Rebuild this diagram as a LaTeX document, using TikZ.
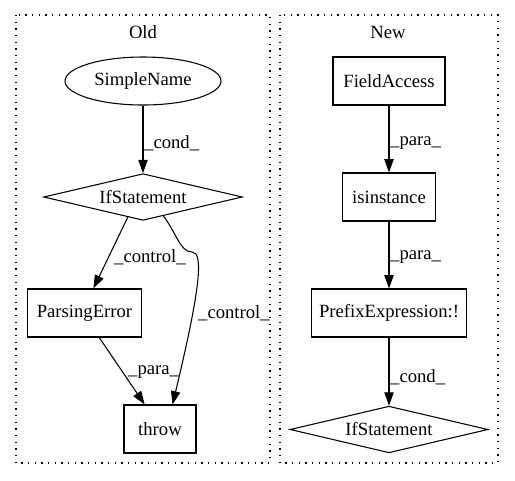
\documentclass[tikz,border=0pt]{standalone}
\usepackage{fontspec}
\setmainfont{Liberation Serif}
\usetikzlibrary{shapes.geometric,arrows.meta}

\begin{document}
\begin{tikzpicture}[x=0.75pt,y=-0.75pt,>={Triangle[length=10pt,width=7pt]},font=\fontsize{14pt}{16pt}\selectfont]
    \tikzstyle{box}=[rectangle,draw=black,line width=0.8pt,minimum height=36pt,inner sep=0pt]
    \tikzstyle{decision}=[diamond,draw=black,line width=0.8pt,aspect=4,minimum height=35pt,inner sep=0pt]
    \tikzstyle{edge}=[->,line width=0.8pt]
    \tikzstyle{lbl}=[anchor=west,inner sep=0.5pt]
    \tikzstyle{cluster}=[draw=black,line width=0.8pt,dash pattern=on 1pt off 4pt]
    \useasboundingbox (0,0) rectangle (515,480);

    % clusters
    \draw[cluster] (16,15) rectangle (270,463);
    \draw[cluster] (280,15) rectangle (498,463);
    \node (oldlbl) at (143,32) {Old};
    \node (newlbl) at (388,32) {New};

    % old
    \node[ellipse,draw=black,line width=0.8pt,minimum width=117pt,minimum height=36pt,inner sep=0pt] (sname) at (143,81) {SimpleName};
    \node[decision,minimum width=149pt] (ifold) at (143,197) {IfStatement};
    \node[box,minimum width=86pt] (perr) at (84.5,313) {ParsingError};
    \node[box,minimum width=54pt] (throw) at (160,429) {throw};

    \draw[edge] (sname) -- (ifold) node[lbl] (l-cond) at (143,143) {\_cond\_};
    \draw[edge] (ifold.-127) -- (perr.70) node[lbl] (l-ctrl1) at (113,257) {\_control\_};
    \draw[edge] (ifold.-43) .. controls (176,232) and (180,252) .. (192,252)
                .. controls (204,252) and (200,290) .. (throw.63)
                node[lbl] (l-ctrl2) at (197,313) {\_control\_};
    \draw[edge] (perr.-59) -- (throw.122) node[lbl] (l-para) at (127,372) {\_para\_};

    % new
    \node[box,minimum width=84pt] (facc) at (389,81) {FieldAccess};
    \node[box,minimum width=70pt] (isinst) at (389,197) {isinstance};
    \node[box,minimum width=116pt] (prefix) at (389,313) {PrefixExpression:!};
    \node[decision,minimum width=148.5pt] (ifnew) at (389,429.5) {IfStatement};

    \foreach \from/\to/\txt/\y in {facc/isinst/para/143, isinst/prefix/para/257, prefix/ifnew/cond/377}
        \draw[edge] (\from) -- (\to) node[lbl] (l-\to) at (389,\y) {\_\txt\_};
\end{tikzpicture}
\end{document}
